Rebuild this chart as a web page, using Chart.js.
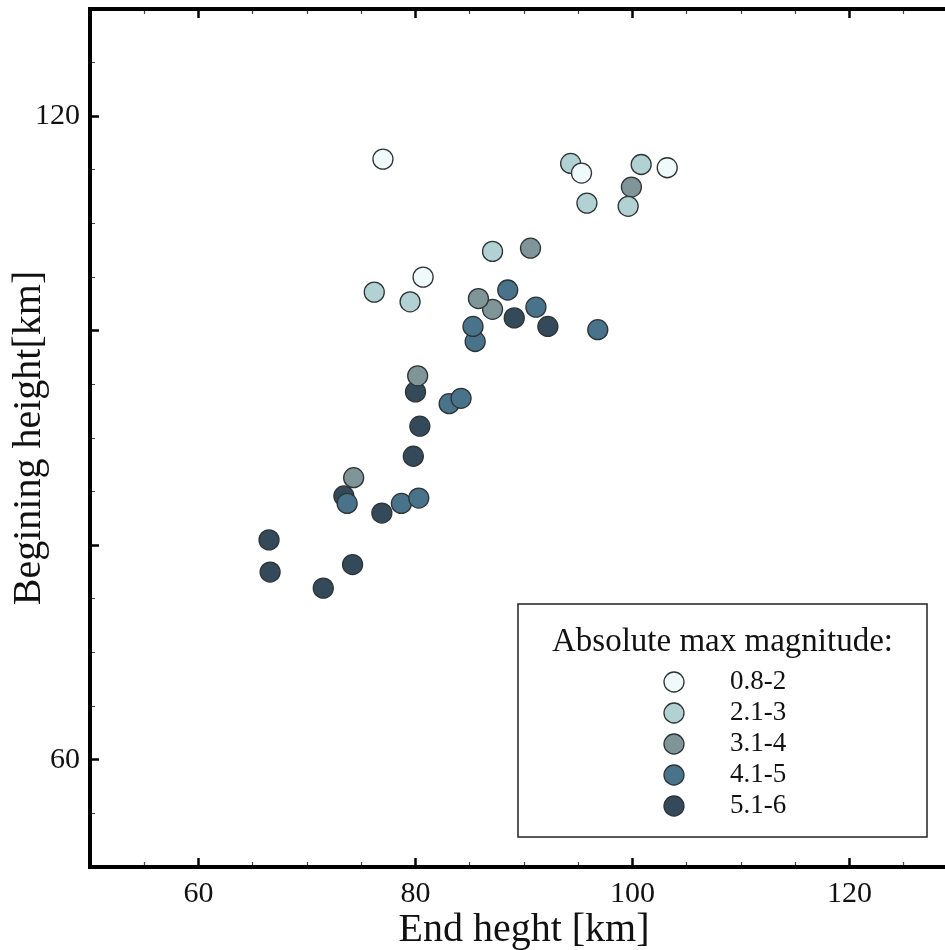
<!DOCTYPE html>
<html>
<head>
<meta charset="utf-8">
<title>Begining vs end height</title>
<script src="https://cdn.jsdelivr.net/npm/chart.js@4.4.1/dist/chart.umd.min.js"></script>
<style>
  html, body { margin: 0; padding: 0; background: #fff; overflow: hidden; }
  /* plot frame runs a bit past the right edge of the window, like the original */
  #wrap { width: 958px; height: 950px; }
</style>
</head>
<body>
<div id="wrap"><canvas id="heightChart"></canvas></div>
<script>
// magnitude classes
const groupLabels = ["0.8-2", "2.1-3", "3.1-4", "4.1-5", "5.1-6"];
const groupColors = ["#f1fafa", "#b1d1d2", "#7f9597", "#49738a", "#344a5b"];

// end height [km] / begining height [km] per class
const endH1 = [77.0, 95.3, 103.2, 80.7];
const beginH1 = [116.0, 114.7, 115.2, 105.0];

const endH2 = [94.3, 100.8, 95.8, 99.6, 87.1, 76.2, 79.5];
const beginH2 = [115.6, 115.5, 111.9, 111.6, 107.4, 103.6, 102.7];

const endH3 = [99.9, 90.6, 87.1, 85.8, 80.2, 74.3];
const beginH3 = [113.4, 107.7, 102.0, 103.0, 95.8, 86.3];

const endH4 = [88.5, 91.1, 85.5, 85.3, 96.8, 83.1, 84.2, 73.7, 78.7, 80.3];
const beginH4 = [103.8, 102.2, 99.0, 100.4, 100.1, 93.2, 93.7, 83.9, 83.9, 84.4];

const endH5 = [89.1, 92.2, 80.0, 80.4, 79.8, 73.4, 76.9, 66.5, 66.6, 74.2, 71.5];
const beginH5 = [101.2, 100.4, 94.3, 91.1, 88.3, 84.6, 83.0, 80.5, 77.5, 78.2, 76.0];

const endHeights = [endH1, endH2, endH3, endH4, endH5];
const beginHeights = [beginH1, beginH2, beginH3, beginH4, beginH5];

// axis labels that are printed
const xTickLabels = [60, 80, 100, 120];
const yTickLabels = [60, 120];
const legendTitle = "Absolute max magnitude:";

const serif = "'Liberation Serif', 'Times New Roman', serif";

const datasets = groupLabels.map((label, i) => ({
    label: label,
    data: endHeights[i].map((x, j) => ({ x: x, y: beginHeights[i][j] })),
    backgroundColor: groupColors[i],
    borderColor: "#2e3336",
    borderWidth: 1.3,
    pointRadius: 10,
    pointHoverRadius: 10
}));

// ticks point into the plot: long ones every 20, short ones every 5
const isMajor = c => c.tick && c.tick.value % 20 === 0;
function tickGrid(fromInside) {
    return {
        drawOnChartArea: false,
        drawTicks: true,
        tickLength: -9,
        tickWidth: c => isMajor(c) ? 2.5 : 1.2,
        tickColor: c => isMajor(c) ? "#000" : "#444",
        // short ticks: only keep the part next to the frame
        tickBorderDash: c => isMajor(c) ? [] : (fromInside ? [0, 4, 7, 100] : [7, 100])
    };
}
const frame = { display: true, color: "#000", width: 4 };

// fixed axis sizes, and no extra room kept for the end labels
function fixSize(w, h) {
    return s => {
        if (w !== null) s.width = w;
        if (h !== null) s.height = h;
        s.paddingTop = s.paddingBottom = s.paddingLeft = s.paddingRight = 0;
    };
}

// legend box in the lower right corner
const magnitudeLegend = {
    id: "magnitudeLegend",
    afterDraw(chart) {
        const ctx = chart.ctx;
        const left = 518, top = 604, right = 927, bottom = 837;
        ctx.save();
        ctx.fillStyle = "#fff";
        ctx.fillRect(left, top, right - left, bottom - top);
        ctx.strokeStyle = "#222";
        ctx.lineWidth = 1.5;
        ctx.strokeRect(left, top, right - left, bottom - top);

        ctx.fillStyle = "#111";
        ctx.font = "33px " + serif;
        ctx.textAlign = "center";
        ctx.textBaseline = "alphabetic";
        ctx.fillText(legendTitle, (left + right) / 2, 651);

        chart.data.datasets.forEach((ds, i) => {
            const y = 682 + i * 31;
            ctx.beginPath();
            ctx.arc(674, y, 10, 0, Math.PI * 2);
            ctx.fillStyle = ds.backgroundColor;
            ctx.fill();
            ctx.lineWidth = ds.borderWidth;
            ctx.strokeStyle = ds.borderColor;
            ctx.stroke();

            ctx.fillStyle = "#111";
            ctx.font = "27px " + serif;
            ctx.textAlign = "left";
            ctx.textBaseline = "middle";
            ctx.fillText(ds.label, 730, y);
        });
        ctx.restore();
    }
};

const ctx = document.getElementById("heightChart").getContext("2d");
new Chart(ctx, {
    type: "scatter",
    data: { datasets },
    options: {
        responsive: true,
        maintainAspectRatio: false,
        animation: false,
        layout: { padding: 0, autoPadding: false },
        plugins: {
            legend: { display: false },
            tooltip: { enabled: false }
        },
        scales: {
            x: {
                type: "linear",
                position: "bottom",
                min: 50,
                max: 130,
                afterFit: fixSize(null, 83),
                border: frame,
                grid: tickGrid(false),
                ticks: {
                    stepSize: 5,
                    autoSkip: false,
                    maxRotation: 0,
                    padding: 18,
                    color: "#111",
                    font: { family: serif, size: 30 },
                    callback: v => xTickLabels.includes(v) ? String(v) : ""
                },
                title: {
                    display: true,
                    text: "End heght [km]",
                    color: "#111",
                    font: { family: serif, size: 40, lineHeight: 1 },
                    padding: { top: 0, bottom: 0 }
                }
            },
            xTop: {
                type: "linear",
                position: "top",
                min: 50,
                max: 130,
                afterFit: fixSize(null, 9),
                border: frame,
                grid: tickGrid(true),
                ticks: { stepSize: 5, autoSkip: false, padding: 0, callback: () => "" }
            },
            y: {
                type: "linear",
                position: "left",
                min: 50,
                max: 130,
                afterFit: fixSize(90, null),
                border: frame,
                grid: tickGrid(true),
                ticks: {
                    stepSize: 5,
                    autoSkip: false,
                    padding: 19,
                    color: "#111",
                    font: { family: serif, size: 30 },
                    callback: v => yTickLabels.includes(v) ? String(v) : ""
                },
                title: {
                    display: true,
                    text: "Begining height[km]",
                    color: "#111",
                    font: { family: serif, size: 40, lineHeight: 1 },
                    padding: { top: 9, bottom: 0 }
                }
            }
        }
    },
    plugins: [magnitudeLegend]
});
</script>
</body>
</html>
